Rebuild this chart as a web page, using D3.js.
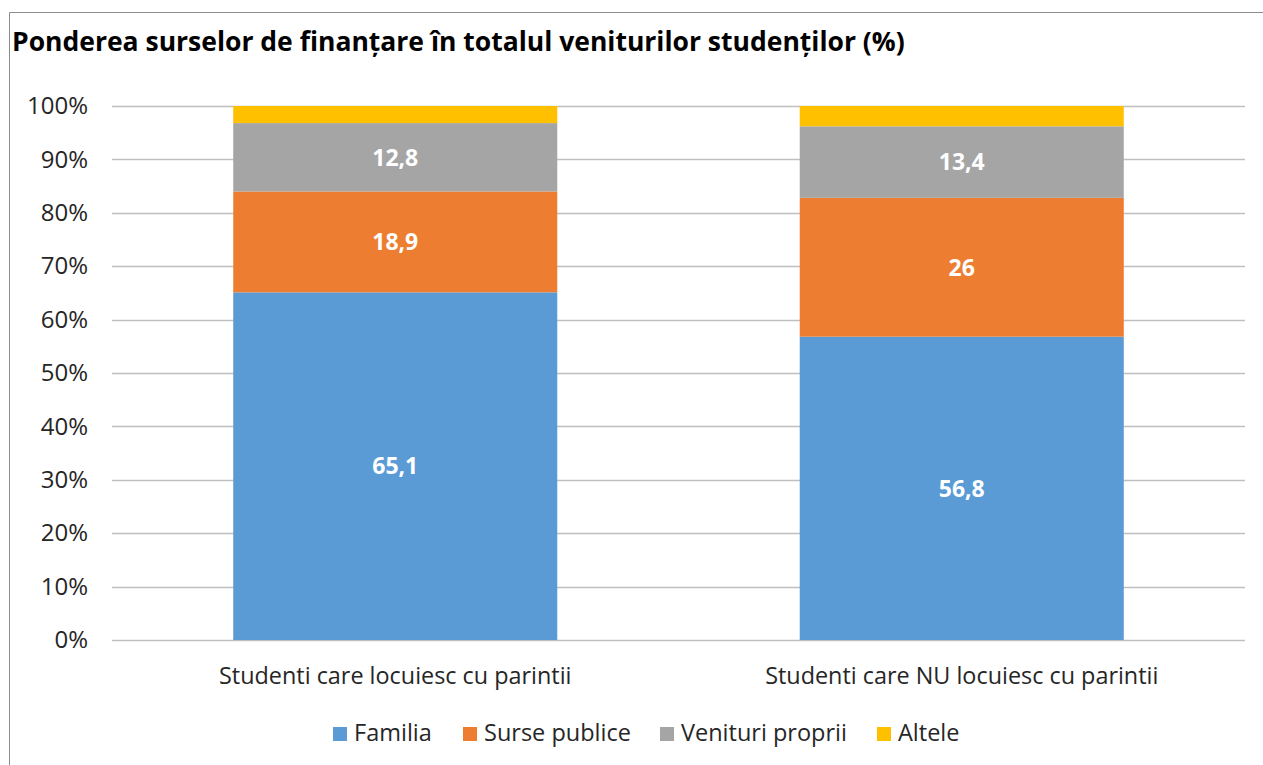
<!DOCTYPE html>
<html>
<head>
<meta charset="utf-8">
<script src="https://cdn.jsdelivr.net/npm/d3@7"></script>
<style>
  body { margin: 0; background: #fff; }
  svg text { font-family: "Open Sans", sans-serif; }
</style>
</head>
<body>
<div id="chart"></div>
<script>
// Data
const categories = ["Studenti care locuiesc cu parintii", "Studenti care NU locuiesc cu parintii"];
const seriesNames = ["Familia", "Surse publice", "Venituri proprii", "Altele"];
const familia = [65.1, 56.8];
const surse = [18.9, 26];
const venituri = [12.8, 13.4];
const altele = [3.2, 3.8];
const showLabel = [true, true, true, false];
const colors = ["#5b9bd5", "#ed7d31", "#a5a5a5", "#ffc000"];
const yTicks = [0, 10, 20, 30, 40, 50, 60, 70, 80, 90, 100];

const W = 1263, H = 765;
const margin = {top: 106, right: 18, bottom: 125, left: 112},
    width = W - margin.left - margin.right,
    height = H - margin.top - margin.bottom;

const svg = d3.select("#chart")
  .append("svg")
    .attr("width", W)
    .attr("height", H);

// frame (only left + top edges visible in the original)
svg.append("path")
  .attr("d", `M9.5,${H} V12.5 H${W}`)
  .attr("fill", "none")
  .attr("stroke", "#8c8c8c")
  .attr("stroke-width", 1);

svg.append("text")
  .attr("x", 12)
  .attr("y", 51)
  .style("font-size", "26.5px")
  .style("font-weight", "bold")
  .attr("fill", "#000")
  .text("Ponderea surselor de finanțare în totalul veniturilor studenților (%)");

const g = svg.append("g")
  .attr("transform", `translate(${margin.left}, ${margin.top})`);

const rows = categories.map((c, i) => ({
  category: c,
  "Familia": familia[i],
  "Surse publice": surse[i],
  "Venituri proprii": venituri[i],
  "Altele": altele[i]
}));

const xScale = d3.scaleBand()
  .domain(categories)
  .range([0, width])
  .paddingInner(0.428)
  .paddingOuter(0.214);

const yScale = d3.scaleLinear()
  .domain([0, 100])
  .range([height, 0]);

// gridlines
g.append("g")
  .selectAll("line")
  .data(yTicks)
  .join("line")
    .attr("x1", 0)
    .attr("x2", width)
    .attr("y1", d => Math.round(yScale(d)) + 0.5)
    .attr("y2", d => Math.round(yScale(d)) + 0.5)
    .attr("stroke", "#bfbfbf")
    .attr("stroke-width", 1.3);

// y axis labels
const yAxis = g.append("g")
  .call(d3.axisLeft(yScale).tickValues(yTicks).tickFormat(d => d + "%").tickSize(0).tickPadding(24));
yAxis.select(".domain").remove();
yAxis.selectAll("text")
  .style("font-size", "24px")
  .style("font-family", "'Open Sans', sans-serif")
  .attr("fill", "#262626");

const stack = d3.stack().keys(seriesNames);
const stacked = stack(rows);

const layers = g.append("g")
  .selectAll("g")
  .data(stacked)
  .join("g")
    .attr("fill", (d, i) => colors[i]);

layers.selectAll("rect")
  .data(d => d)
  .join("rect")
    .attr("x", d => xScale(d.data.category))
    .attr("y", d => yScale(d[1]))
    .attr("width", xScale.bandwidth())
    .attr("height", d => yScale(d[0]) - yScale(d[1]));

// value labels
stacked.forEach((layer, i) => {
  if (!showLabel[i]) return;
  g.append("g")
    .selectAll("text")
    .data(layer)
    .join("text")
      .attr("x", d => xScale(d.data.category) + xScale.bandwidth() / 2)
      .attr("y", d => yScale((d[0] + d[1]) / 2))
      .attr("dy", "0.36em")
      .attr("text-anchor", "middle")
      .attr("fill", "#fff")
      .style("font-size", "23px")
      .style("font-weight", "bold")
      .text(d => String(+(d[1] - d[0]).toFixed(1)).replace(".", ","));
});

// x axis labels
const xAxis = g.append("g")
  .attr("transform", `translate(0, ${height})`)
  .call(d3.axisBottom(xScale).tickSize(0).tickPadding(27));
xAxis.select(".domain").remove();
xAxis.selectAll("text")
  .style("font-size", "23.4px")
  .style("font-family", "'Open Sans', sans-serif")
  .attr("fill", "#262626");

// legend
const legendX = [333, 463, 660, 877];
const legend = svg.append("g")
  .selectAll("g")
  .data(seriesNames)
  .join("g")
    .attr("transform", (d, i) => `translate(${legendX[i]}, 727)`);
legend.append("rect")
  .attr("width", 14)
  .attr("height", 14)
  .attr("fill", (d, i) => colors[i]);
legend.append("text")
  .attr("x", 21)
  .attr("y", 14)
  .style("font-size", "23.5px")
  .attr("fill", "#262626")
  .text(d => d);
</script>
</body>
</html>
